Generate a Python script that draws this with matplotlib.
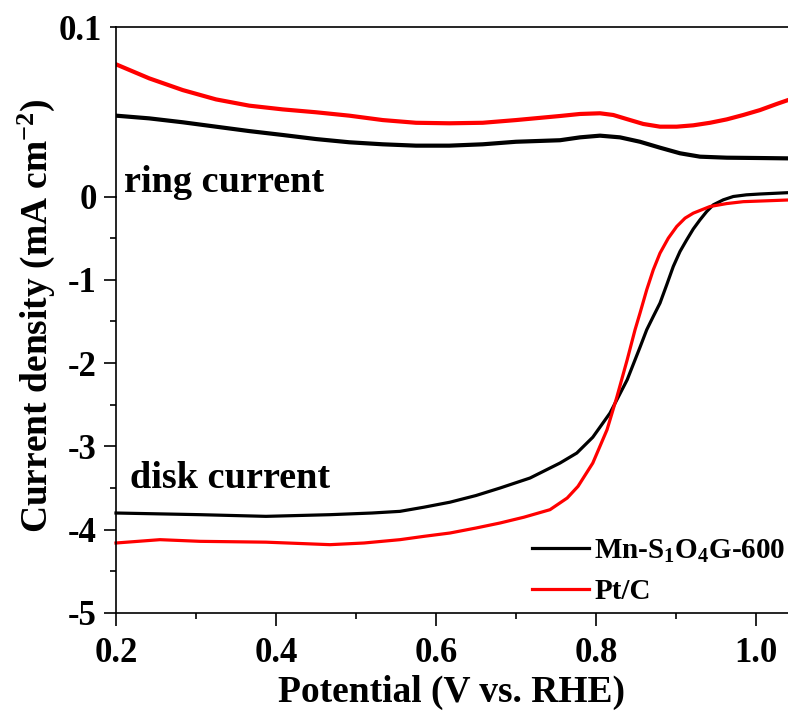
import matplotlib
matplotlib.use('Agg')
import matplotlib.pyplot as plt
from matplotlib.ticker import MultipleLocator, FixedLocator

plt.rcParams['font.family'] = 'Liberation Serif'
plt.rcParams['font.weight'] = 'bold'
plt.rcParams['axes.labelweight'] = 'bold'
plt.rcParams['mathtext.fontset'] = 'custom'
plt.rcParams['mathtext.rm'] = 'Liberation Serif:bold'
plt.rcParams['mathtext.it'] = 'Liberation Serif:bold'
plt.rcParams['mathtext.bf'] = 'Liberation Serif:bold'

# ring current (upper panel)
ring_mn_x = [0.2, 0.2416, 0.2834, 0.325, 0.3666, 0.4084, 0.45, 0.4916, 0.5334, 0.575, 0.6166, 0.6584,
             0.70, 0.755, 0.78, 0.805, 0.83, 0.855, 0.88, 0.905, 0.93, 0.9634, 1.005, 1.04]
ring_mn_y = [0.0477, 0.0461, 0.0438, 0.0412, 0.0386, 0.0363, 0.0339, 0.0320, 0.0308, 0.0300, 0.0300, 0.0308,
             0.0323, 0.0332, 0.0349, 0.0359, 0.0349, 0.0323, 0.0288, 0.0255, 0.0235, 0.0229, 0.0227, 0.0225]
ring_pt_x = [0.2, 0.2416, 0.2834, 0.325, 0.3666, 0.4084, 0.45, 0.4916, 0.5334, 0.575, 0.6166, 0.6584,
             0.70, 0.755, 0.78, 0.805, 0.8216, 0.8384, 0.8591, 0.88, 0.9009, 0.9216, 0.9425, 0.9634,
             0.9841, 1.005, 1.0259, 1.04]
ring_pt_y = [0.0780, 0.0697, 0.0628, 0.0573, 0.0536, 0.0514, 0.0497, 0.0477, 0.0451, 0.0435, 0.0432, 0.0435,
             0.0451, 0.0475, 0.0487, 0.0491, 0.0481, 0.0457, 0.0428, 0.0412, 0.0412, 0.0420, 0.0435, 0.0455,
             0.0481, 0.0510, 0.0546, 0.0569]

# disk current (lower panel)
disk_mn_x = [0.2, 0.305, 0.3875, 0.4675, 0.52, 0.555, 0.585, 0.6175, 0.65, 0.68, 0.7175, 0.755, 0.776,
             0.796, 0.8175, 0.839, 0.855, 0.8634, 0.8716, 0.88, 0.8884, 0.8966, 0.905, 0.9134, 0.9216,
             0.93, 0.9384, 0.9466, 0.9591, 0.9716, 0.988, 1.005, 1.04]
disk_mn_y = [-3.80, -3.82, -3.84, -3.82, -3.80, -3.78, -3.73, -3.67, -3.59, -3.50, -3.38, -3.20, -3.08,
             -2.89, -2.60, -2.20, -1.81, -1.60, -1.44, -1.28, -1.06, -0.84, -0.66, -0.52, -0.39,
             -0.28, -0.18, -0.10, -0.04, 0.0, 0.02, 0.03, 0.046]
disk_pt_x = [0.2, 0.255, 0.305, 0.3875, 0.4675, 0.51, 0.555, 0.585, 0.6175, 0.65, 0.68, 0.71, 0.7425,
             0.764, 0.7775, 0.796, 0.8138, 0.826, 0.839, 0.8488, 0.855, 0.8634, 0.8716, 0.88, 0.8904,
             0.9009, 0.9113, 0.9216, 0.9425, 0.9633, 0.9841, 1.04]
disk_pt_y = [-4.16, -4.12, -4.14, -4.15, -4.18, -4.16, -4.12, -4.08, -4.04, -3.98, -3.92, -3.85, -3.76,
             -3.62, -3.48, -3.20, -2.80, -2.41, -1.96, -1.60, -1.40, -1.12, -0.88, -0.68, -0.50,
             -0.36, -0.26, -0.20, -0.12, -0.085, -0.062, -0.042]

fig = plt.figure(figsize=(7.88, 7.13), dpi=100)
ax_top = fig.add_axes([0.1472, 0.7244, 0.8528, 0.2377])
ax = fig.add_axes([0.1472, 0.1403, 0.8528, 0.5841])
ax.patch.set_visible(False)

ax_top.plot(ring_mn_x, ring_mn_y, color='black', lw=3.0)
ax_top.plot(ring_pt_x, ring_pt_y, color='red', lw=3.0)
ax.plot(disk_mn_x, disk_mn_y, color='black', lw=2.3, label=r'Mn-S$_{1}$O$_{4}$G-600', clip_on=False)
ax.plot(disk_pt_x, disk_pt_y, color='red', lw=2.3, label='Pt/C', clip_on=False)

for a in (ax_top, ax):
    a.set_xlim(0.2, 1.04)
    a.spines['right'].set_visible(False)
    for s in a.spines.values():
        s.set_linewidth(1.2)

ax_top.set_ylim(0, 0.1)
ax_top.spines['bottom'].set_visible(False)
ax_top.set_xticks([])
ax_top.yaxis.set_major_locator(FixedLocator([0.1]))
ax_top.set_yticklabels(['0.1'])
ax_top.tick_params(axis='y', direction='out', length=4, width=1.2, labelsize=25, pad=6)

ax.set_ylim(-5, 0)
ax.spines['top'].set_visible(False)
ax.xaxis.set_minor_locator(MultipleLocator(0.1))
ax.yaxis.set_minor_locator(MultipleLocator(0.5))
ax.set_xticks([0.2, 0.4, 0.6, 0.8, 1.0])
ax.set_xticklabels(['0.2', '0.4', '0.6', '0.8', '1.0'])
ax.set_yticks([-5, -4, -3, -2, -1, 0])
ax.set_yticklabels(['-5', '-4', '-3', '-2', '-1', '0'])
ax.tick_params(which='major', direction='out', length=9, width=1.2, labelsize=25)
ax.tick_params(which='minor', direction='out', length=4, width=1.2)
ax.tick_params(axis='x', which='major', pad=8)
ax.tick_params(axis='y', which='major', pad=5)

ax.set_xlabel('Potential (V vs. RHE)', fontsize=27, fontweight='bold', labelpad=4)
fig.text(0.046, 0.558, r'Current density (mA cm$^{-2}$)', rotation=90,
         fontsize=27, fontweight='bold', ha='center', va='center')

ax_top.text(0.21, 0.0027, 'ring current', fontsize=27.5, va='baseline', clip_on=False)
ax.text(0.2175, -3.50, 'disk current', fontsize=27.5, va='baseline')

ax.legend(loc='lower right', bbox_to_anchor=(1.012, -0.005), frameon=False, fontsize=21,
          handlelength=1.95, handletextpad=0.2, labelspacing=0.45, borderaxespad=0.05, borderpad=0.3)

fig.savefig('out.png', dpi=100)
